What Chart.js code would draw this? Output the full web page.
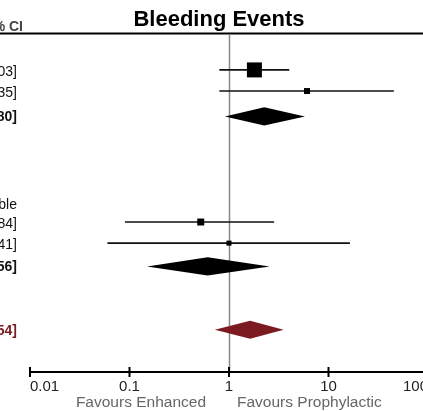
<!DOCTYPE html>
<html>
<head>
<meta charset="utf-8">
<title>Bleeding Events</title>
<script src="https://cdn.jsdelivr.net/npm/chart.js@4.4.0/dist/chart.umd.min.js"></script>
<style>
  html, body { margin: 0; padding: 0; background: #fff; overflow: hidden; }
  #wrap { position: relative; width: 440px; height: 411px; }
</style>
</head>
<body>
<div id="wrap"><canvas id="forestChart"></canvas></div>
<script>
// individual studies (odds ratio, 95% CI)
const studyEst = [1.80, 6.08, 0.52, 1.00];
const studyLo = [0.80, 0.80, 0.09, 0.06];
const studyHi = [4.03, 45.35, 2.84, 16.41];
const studyWeight = [67.2, 10.7, 14.6, 7.5];
const studyRow = [1.7, 2.7, 8.9, 9.9];

// subgroup subtotals and overall total
const pooledEst = [2.26, 0.61, 1.63];
const pooledLo = [0.91, 0.15, 0.72];
const pooledHi = [5.80, 2.56, 3.54];
const pooledRow = [3.9, 11.0, 14.0];

// study with no events in either arm
const emptyRow = [8.0];
const emptyText = ['Not estimable'];

const xTicks = [0.01, 0.1, 1, 10, 100];

const FONT = '"Liberation Sans", Arial, sans-serif';
const DIAMOND_HALF = 0.43;
const RED = '#7b1a1f';

const fmt = (e, l, h) => `${e.toFixed(2)} [${l.toFixed(2)}, ${h.toFixed(2)}]`;

const datasets = [];

// boxes, side grows with sqrt(weight)
datasets.push({
  type: 'scatter',
  data: studyEst.map((v, i) => ({ x: v, y: studyRow[i] })),
  pointStyle: 'rect',
  pointRadius: studyWeight.map(w => Math.sqrt(w) * 1.83 / Math.SQRT2),
  pointBackgroundColor: '#000',
  pointBorderWidth: 0,
  pointHoverRadius: 0
});

// confidence interval whiskers
studyEst.forEach((_, i) => {
  datasets.push({
    type: 'line',
    data: [{ x: studyLo[i], y: studyRow[i] }, { x: studyHi[i], y: studyRow[i] }],
    borderColor: '#111',
    borderWidth: 1.6,
    pointRadius: 0,
    fill: false
  });
});

// pooled diamonds
pooledEst.forEach((e, i) => {
  const y = pooledRow[i];
  const col = i === pooledEst.length - 1 ? RED : '#000';
  datasets.push({
    type: 'line',
    data: [
      { x: pooledLo[i], y: y },
      { x: e, y: y - DIAMOND_HALF },
      { x: pooledHi[i], y: y },
      { x: e, y: y + DIAMOND_HALF },
      { x: pooledLo[i], y: y }
    ],
    borderWidth: 0,
    borderColor: col,
    backgroundColor: col,
    pointRadius: 0,
    tension: 0,
    fill: 'shape'
  });
});

const forestDecor = {
  id: 'forestDecor',
  beforeDatasetsDraw(chart) {
    const { ctx, chartArea, scales: { x } } = chart;
    ctx.save();
    // header rule
    ctx.strokeStyle = '#000';
    ctx.lineWidth = 2;
    ctx.beginPath();
    ctx.moveTo(0, chartArea.top - 0.5);
    ctx.lineTo(chart.width, chartArea.top - 0.5);
    ctx.stroke();
    // line of no effect
    const x1 = Math.round(x.getPixelForValue(1)) + 0.5;
    ctx.strokeStyle = '#888';
    ctx.lineWidth = 1.5;
    ctx.beginPath();
    ctx.moveTo(x1, chartArea.top);
    ctx.lineTo(x1, chartArea.bottom);
    ctx.stroke();
    // axis with ticks crossing the line
    ctx.strokeStyle = '#000';
    ctx.lineWidth = 2;
    ctx.beginPath();
    ctx.moveTo(chartArea.left, chartArea.bottom);
    ctx.lineTo(chartArea.right, chartArea.bottom);
    xTicks.forEach(t => {
      const px = x.getPixelForValue(t);
      ctx.moveTo(px, chartArea.bottom - 5);
      ctx.lineTo(px, chartArea.bottom + 5);
    });
    ctx.stroke();
    ctx.restore();
  },
  afterDraw(chart) {
    const { ctx, scales: { x, y } } = chart;
    const right = 17;
    ctx.save();
    ctx.textBaseline = 'middle';

    ctx.font = 'bold 22px ' + FONT;
    ctx.fillStyle = '#000';
    ctx.textAlign = 'center';
    ctx.fillText('Bleeding Events', 219, 20);

    ctx.textAlign = 'right';
    ctx.font = 'bold 14px ' + FONT;
    ctx.fillStyle = '#444';
    ctx.fillText('Odds Ratio M-H, Fixed, 95% CI', 23, 27);

    ctx.font = '14px ' + FONT;
    ctx.fillStyle = '#111';
    studyEst.forEach((e, i) => {
      ctx.fillText(fmt(e, studyLo[i], studyHi[i]), right, y.getPixelForValue(studyRow[i]) + 2);
    });
    emptyRow.forEach((r, i) => {
      ctx.fillText(emptyText[i], right, y.getPixelForValue(r) + 2);
    });

    ctx.font = 'bold 14px ' + FONT;
    pooledEst.forEach((e, i) => {
      ctx.fillStyle = i === pooledEst.length - 1 ? RED : '#111';
      ctx.fillText(fmt(e, pooledLo[i], pooledHi[i]), right, y.getPixelForValue(pooledRow[i]) + 1);
    });

    // direction captions under the axis
    const x1 = x.getPixelForValue(1);
    ctx.font = '15.5px ' + FONT;
    ctx.fillStyle = '#666';
    ctx.textAlign = 'right';
    ctx.fillText('Favours Enhanced', x1 - 23, 403);
    ctx.textAlign = 'left';
    ctx.fillText('Favours Prophylactic', x1 + 8, 403);
    ctx.restore();
  }
};

new Chart(document.getElementById('forestChart'), {
  type: 'scatter',
  data: { datasets },
  options: {
    responsive: true,
    maintainAspectRatio: false,
    animation: false,
    layout: { padding: { left: 30, right: 12, top: 34, bottom: 9 } },
    plugins: {
      legend: { display: false },
      title: { display: false },
      tooltip: { enabled: false }
    },
    scales: {
      x: {
        type: 'logarithmic',
        min: 0.01,
        max: 100,
        afterBuildTicks: scale => { scale.ticks = xTicks.map(v => ({ value: v })); },
        grid: { display: false, drawTicks: false },
        border: { display: false },
        ticks: {
          align: 'inner',
          autoSkip: false,
          maxRotation: 0,
          padding: 6,
          color: '#222',
          font: { size: 15, family: FONT },
          callback: v => String(v)
        }
      },
      y: {
        type: 'linear',
        min: 0,
        max: 16,
        reverse: true,
        display: false
      }
    }
  },
  plugins: [forestDecor]
});
</script>
</body>
</html>
